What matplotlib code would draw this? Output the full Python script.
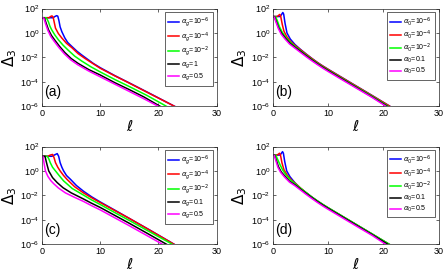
import numpy as np
import matplotlib
matplotlib.use("Agg")
import matplotlib.pyplot as plt

plt.rcParams['font.family'] = ['Liberation Sans', 'DejaVu Sans']
plt.rcParams['mathtext.fontset'] = 'dejavusans'

# curve order: 1e-6 (blue), 1e-4 (red), 1e-2 (green), 4th (black), 0.5 (magenta)
colors = ['#0000ff', '#ff0000', '#00ff00', '#000000', '#ff00ff']

# panel (a): ell values and log10(Delta_3)
ell_a = [
    [0, 1.9, 2.2, 2.5, 2.7, 2.9, 3.1, 3.4, 3.9, 4.4, 5.1, 6.0, 6.8, 7.8, 8.8, 10, 12.5, 15, 19, 22.9],
    [0, 1.2, 1.45, 1.7, 1.9, 2.1, 2.3, 2.8, 3.4, 4.2, 5.1, 6.2, 7.4, 8.7, 10, 12.5, 15, 19, 22.9],
    [0, 0.7, 0.9, 1.1, 1.35, 1.65, 2.2, 2.8, 3.6, 4.5, 5.6, 6.8, 8.4, 10, 12.5, 15, 18, 21.5],
    [0, 0.4, 0.7, 1.1, 1.6, 2.2, 3.0, 3.9, 5.0, 6.2, 8.0, 10, 12.5, 15, 17.5, 20.4],
    [0, 0.3, 0.6, 1.0, 1.5, 2.1, 2.9, 3.8, 4.9, 6.1, 8.0, 10, 12.5, 15, 17.5, 20.1],
]
lg_a = [
    [1.25, 1.25, 1.35, 1.42, 1.38, 1.0, 0.5, 0.1, -0.4, -0.78, -1.1, -1.5, -1.8, -2.15, -2.5,
     -2.85, -3.5, -4.1, -5.08, -6.05],
    [1.25, 1.25, 1.35, 1.4, 1.3, 0.85, 0.4, -0.05, -0.42, -0.85, -1.2, -1.7, -2.1, -2.5,
     -2.9, -3.52, -4.12, -5.1, -6.05],
    [1.25, 1.25, 1.1, 0.9, 0.55, 0.26, -0.17, -0.56, -1.0, -1.42, -1.9, -2.3, -2.78, -3.2,
     -3.82, -4.4, -5.12, -6.05],
    [1.25, 1.22, 0.8, 0.26, -0.2, -0.6, -1.1, -1.6, -2.1, -2.5, -3.0, -3.45, -4.08, -4.65,
     -5.25, -6.05],
    [1.25, 1.22, 0.75, 0.2, -0.3, -0.7, -1.2, -1.7, -2.2, -2.6, -3.12, -3.6, -4.2, -4.8,
     -5.4, -6.05],
]

# panel (b)
ell_b = [
    [0, 1.3, 1.55, 1.8, 1.95, 2.2, 2.55, 3.15, 4.0, 5.0, 6.0, 7.0, 8.0, 9.0, 10, 12, 15, 18, 21.3],
    [0, 0.8, 1.05, 1.25, 1.4, 1.7, 2.0, 2.5, 3.2, 4.0, 5.0, 6.0, 7.0, 8.0, 9.0, 10, 12, 15, 18, 21.3],
    [0, 0.5, 0.8, 1.2, 1.7, 2.4, 3.2, 4.0, 5.0, 6.0, 7.0, 8.0, 9.0, 10, 12, 15, 18, 21.0],
    [0, 0.3, 0.6, 1.05, 1.6, 2.3, 3.1, 4.0, 5.0, 6.0, 7.0, 8.0, 9.0, 10, 12, 15, 18, 20.8],
    [0, 0.25, 0.55, 1.0, 1.5, 2.2, 3.0, 4.0, 5.0, 6.0, 7.0, 8.0, 9.0, 10, 12, 15, 18, 20.6],
]
lg_b = [
    [1.35, 1.35, 1.5, 1.68, 1.55, 0.8, 0.0, -0.5, -0.95, -1.35, -1.72, -2.07, -2.4, -2.7,
     -2.98, -3.52, -4.33, -5.14, -6.05],
    [1.35, 1.35, 1.45, 1.52, 1.4, 0.7, 0.15, -0.3, -0.7, -1.02, -1.38, -1.74, -2.08, -2.41,
     -2.71, -2.99, -3.53, -4.34, -5.15, -6.05],
    [1.35, 1.33, 1.0, 0.5, 0.05, -0.4, -0.78, -1.1, -1.46, -1.81, -2.15, -2.47, -2.77, -3.05,
     -3.59, -4.4, -5.2, -6.05],
    [1.35, 1.32, 0.95, 0.4, -0.05, -0.45, -0.85, -1.18, -1.52, -1.87, -2.2, -2.52, -2.82, -3.1,
     -3.64, -4.45, -5.26, -6.05],
    [1.35, 1.3, 0.9, 0.35, -0.1, -0.5, -0.9, -1.25, -1.6, -1.94, -2.27, -2.58, -2.88, -3.16,
     -3.7, -4.5, -5.3, -6.05],
]

# panel (c)
ell_c = [
    [0, 1.7, 2.1, 2.6, 2.85, 3.1, 3.4, 3.7, 4.2, 4.9, 5.9, 7.1, 8.5, 10, 12.5, 15, 18.5, 22.8],
    [0, 1.0, 1.4, 1.8, 2.05, 2.3, 2.7, 3.1, 3.7, 4.3, 5.6, 7.1, 8.5, 10, 12.5, 15, 18.5, 22.8],
    [0, 0.9, 1.15, 1.4, 1.8, 2.3, 3.0, 3.7, 5.2, 7.1, 8.5, 10, 12.5, 15, 18.5, 22.5],
    [0, 0.5, 0.8, 1.14, 1.8, 2.6, 3.6, 5.0, 7.1, 8.5, 10, 12.5, 15, 18, 21.5],
    [0, 0.15, 0.35, 0.57, 1.0, 1.5, 2.0, 2.8, 4.0, 5.5, 7.1, 8.5, 10, 12.5, 15, 18, 20.8],
]
lg_c = [
    [1.2, 1.2, 1.3, 1.42, 1.2, 0.68, 0.3, 0.0, -0.38, -0.7, -1.2, -1.66, -2.12, -2.55, -3.22,
     -3.9, -4.85, -6.05],
    [1.2, 1.2, 1.3, 1.35, 1.1, 0.68, 0.3, 0.0, -0.38, -0.7, -1.3, -1.8, -2.2, -2.6, -3.25,
     -3.9, -4.86, -6.05],
    [1.2, 1.2, 1.0, 0.68, 0.3, 0.0, -0.42, -0.82, -1.45, -1.98, -2.38, -2.76, -3.42, -4.07,
     -5.0, -6.05],
    [1.2, 1.2, 0.6, 0.0, -0.55, -0.96, -1.38, -1.8, -2.3, -2.65, -3.0, -3.65, -4.3, -5.1, -6.05],
    [1.2, 1.2, 0.6, 0.0, -0.45, -0.8, -1.05, -1.4, -1.8, -2.15, -2.5, -2.85, -3.2, -3.85,
     -4.5, -5.3, -6.05],
]

# panel (d)
ell_d = [
    [0, 1.3, 1.5, 1.75, 1.9, 2.15, 2.5, 3.1, 4.0, 5.0, 6.0, 7.0, 8.0, 9.0, 10, 12, 15, 18, 21.15],
    [0, 0.8, 1.0, 1.2, 1.35, 1.65, 2.0, 2.6, 3.3, 4.0, 5.0, 6.0, 7.0, 8.0, 9.0, 10, 12, 15, 18, 21.15],
    [0, 0.55, 0.85, 1.3, 1.8, 2.4, 3.2, 4.0, 5.0, 6.0, 7.0, 8.0, 9.0, 10, 12, 15, 18, 21.2],
    [0, 0.3, 0.6, 1.0, 1.5, 2.2, 3.0, 4.0, 5.0, 6.0, 7.0, 8.0, 9.0, 10, 12, 15, 18, 20.9],
    [0, 0.25, 0.5, 0.9, 1.4, 2.1, 3.0, 4.0, 5.0, 6.0, 7.0, 8.0, 9.0, 10, 12, 15, 18, 20.5],
]
lg_d = [
    [1.3, 1.3, 1.42, 1.58, 1.45, 0.75, 0.0, -0.48, -0.98, -1.43, -1.78, -2.13, -2.45, -2.75,
     -3.03, -3.57, -4.38, -5.19, -6.05],
    [1.3, 1.3, 1.38, 1.45, 1.35, 0.65, 0.1, -0.35, -0.72, -1.0, -1.4, -1.78, -2.13, -2.45,
     -2.75, -3.03, -3.57, -4.38, -5.19, -6.05],
    [1.3, 1.28, 0.95, 0.5, 0.05, -0.35, -0.75, -1.05, -1.42, -1.77, -2.12, -2.44, -2.74, -3.02,
     -3.56, -4.37, -5.18, -6.05],
    [1.3, 1.28, 0.9, 0.35, -0.08, -0.45, -0.85, -1.15, -1.5, -1.85, -2.18, -2.5, -2.8, -3.08,
     -3.62, -4.43, -5.24, -6.05],
    [1.3, 1.27, 0.9, 0.3, -0.12, -0.5, -0.92, -1.22, -1.57, -1.92, -2.25, -2.57, -2.87, -3.15,
     -3.69, -4.5, -5.3, -6.05],
]

labels_a = [r'$\alpha_g$=10$^{-6}$', r'$\alpha_g$=10$^{-4}$', r'$\alpha_g$=10$^{-2}$',
            r'$\alpha_g$=1', r'$\alpha_g$=0.5']
labels_b = [r'$\alpha_0$=10$^{-6}$', r'$\alpha_0$=10$^{-4}$', r'$\alpha_0$=10$^{-2}$',
            r'$\alpha_0$=0.1', r'$\alpha_0$=0.5']
labels_c = [r'$\alpha_g$=10$^{-6}$', r'$\alpha_g$=10$^{-4}$', r'$\alpha_g$=10$^{-2}$',
            r'$\alpha_g$=0.1', r'$\alpha_g$=0.5']
labels_d = labels_b

panels = [
    ('(a)', ell_a, lg_a, labels_a, [0.095, 0.617, 0.394, 0.352]),
    ('(b)', ell_b, lg_b, labels_b, [0.616, 0.617, 0.374, 0.352]),
    ('(c)', ell_c, lg_c, labels_c, [0.095, 0.119, 0.394, 0.352]),
    ('(d)', ell_d, lg_d, labels_d, [0.616, 0.119, 0.374, 0.352]),
]

fig = plt.figure(figsize=(4.43, 2.77), dpi=100)

for tag, ells, lgs, labels, pos in panels:
    ax = fig.add_axes(pos)
    for ell, lg, col, lab in zip(ells, lgs, colors, labels):
        ax.semilogy(ell, 10.0 ** np.array(lg), color=col, lw=1.1, label=lab)
    ax.set_xlim(0, 30)
    ax.set_ylim(1e-6, 1e2)
    ax.set_xticks([0, 10, 20, 30])
    ax.set_yticks([1e-6, 1e-4, 1e-2, 1e0, 1e2])
    ax.minorticks_off()
    ax.tick_params(direction='in', length=2.5, width=0.5, labelsize=6.5,
                   top=True, right=True, color='0.15', pad=2)
    for s in ax.spines.values():
        s.set_linewidth(0.5)
        s.set_color('0.15')
    ax.set_xlabel(r'$\ell$', fontsize=11, labelpad=1)
    ax.set_ylabel(r'$\Delta_3$', fontsize=11, labelpad=1)
    ax.text(0.012, 0.14, tag, transform=ax.transAxes, fontsize=10,
            ha='left', va='center')
    leg = ax.legend(loc='upper right', fontsize=5, handlelength=1.6,
                    handletextpad=0.3, labelspacing=0.12, borderpad=0.45,
                    borderaxespad=0.5, fancybox=False, framealpha=1)
    leg.get_frame().set_linewidth(0.5)
    leg.get_frame().set_edgecolor('0.15')

fig.savefig('out.png', dpi=100)
